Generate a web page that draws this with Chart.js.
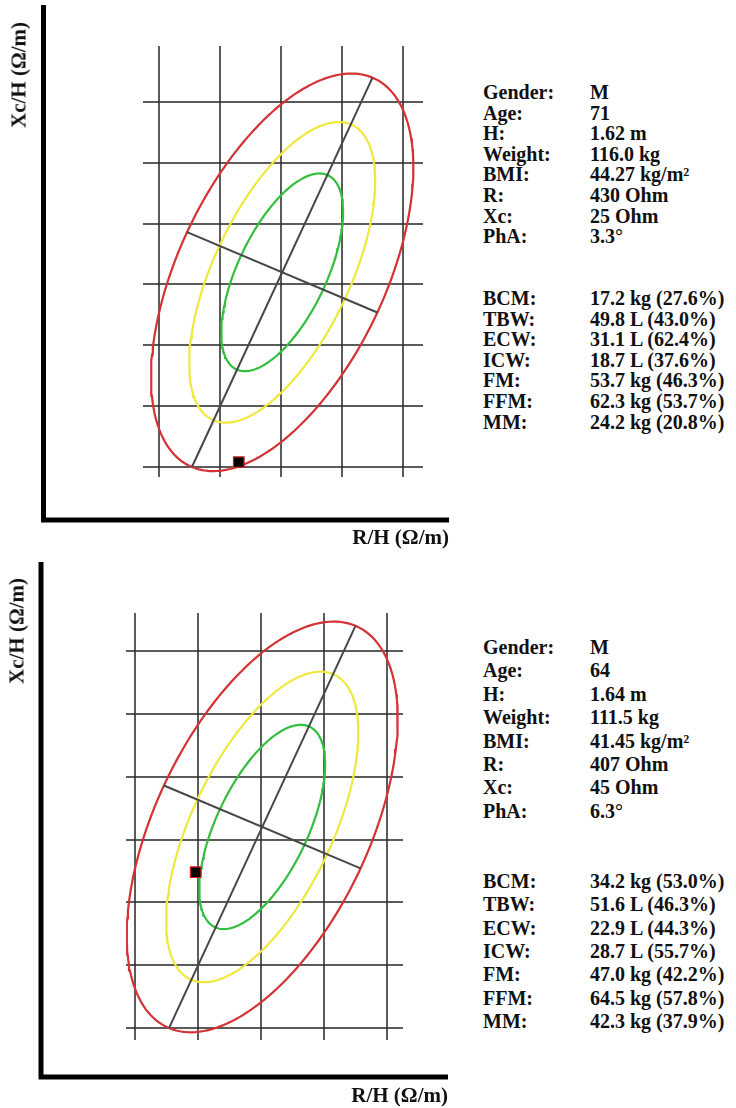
<!DOCTYPE html>
<html>
<head>
<meta charset="utf-8">
<script src="https://cdn.jsdelivr.net/npm/chart.js@4.4.1/dist/chart.umd.min.js"></script>
<style>
  body { margin: 0; background: #fff; }
  #page { position: relative; width: 736px; height: 1108px; overflow: hidden; font-family: "Liberation Serif", serif; color: #111; }
  canvas { position: absolute; left: 0; }
  .ytitle, .xtitle { position: absolute; font-weight: bold; font-size: 21px; white-space: nowrap; line-height: 1; }
  .ytitle { transform: translate(-50%, -50%) rotate(-90deg); }
  .xtitle { transform: translate(-100%, -50%); }
  .info { position: absolute; left: 483px; font-weight: bold; font-size: 20px; }
  .info .row { position: relative; white-space: nowrap; }
  .info .v { position: absolute; left: 107px; top: 0; }
</style>
</head>
<body>
<div id="page">
  <canvas id="bivaTop" width="460" height="550" style="top:0"></canvas>
  <canvas id="bivaBottom" width="460" height="553" style="top:555px"></canvas>
  <div class="ytitle" style="left:19px; top:75px">Xc/H (Ω/m)</div>
  <div class="xtitle" style="left:449px; top:537px">R/H (Ω/m)</div>
  <div class="ytitle" style="left:17px; top:631px">Xc/H (Ω/m)</div>
  <div class="xtitle" style="left:448px; top:1095px">R/H (Ω/m)</div>
  <div class="info" id="infoTop" style="top:82px"></div>
  <div class="info" id="infoBottom" style="top:636px"></div>
</div>
<script>
// grid positions (Ω/m)
const xTicks = [200, 250, 300, 350, 400];
const yTicks = [15, 20, 25, 30, 35, 40, 45];

// reference ellipse: centre and the two drawn half axes
const center = [301, 31];
const majorHalf = [74, 16];
const minorHalf = [78, -3.3];
const levels = ["50%", "75%", "95%"];
const levelMajor = [0.5, 0.76, 1];
const levelMinor = [0.43, 0.66, 1];
const levelColors = ["rgb(52, 190, 62)", "rgb(240, 232, 62)", "rgb(212, 50, 52)"];

// the two patients (R/H, Xc/H)
const pointRH = [265.4, 248.2];
const pointXcH = [15.4, 27.4];

const infoLabels = ["Gender:", "Age:", "H:", "Weight:", "BMI:", "R:", "Xc:", "PhA:",
  "BCM:", "TBW:", "ECW:", "ICW:", "FM:", "FFM:", "MM:"];
const infoTop = ["M", "71", "1.62 m", "116.0 kg", "44.27 kg/m²", "430 Ohm", "25 Ohm", "3.3°",
  "17.2 kg (27.6%)", "49.8 L (43.0%)", "31.1 L (62.4%)", "18.7 L (37.6%)", "53.7 kg (46.3%)", "62.3 kg (53.7%)", "24.2 kg (20.8%)"];
const infoBottom = ["M", "64", "1.64 m", "111.5 kg", "41.45 kg/m²", "407 Ohm", "45 Ohm", "6.3°",
  "34.2 kg (53.0%)", "51.6 L (46.3%)", "22.9 L (44.3%)", "28.7 L (55.7%)", "47.0 kg (42.2%)", "64.5 kg (57.8%)", "42.3 kg (37.9%)"];

function fillInfo(el, values, rowH) {
  infoLabels.forEach((lab, i) => {
    if (i == 8) {
      const gap = document.createElement("div");
      gap.style.height = (rowH * 2) + "px";
      el.appendChild(gap);
    }
    const row = document.createElement("div");
    row.className = "row";
    row.style.height = rowH + "px";
    row.style.lineHeight = rowH + "px";
    row.innerHTML = '<span class="k"></span><span class="v"></span>';
    row.children[0].textContent = lab;
    row.children[1].textContent = values[i];
    el.appendChild(row);
  });
}
fillInfo(document.getElementById("infoTop"), infoTop, 20.6);
fillInfo(document.getElementById("infoBottom"), infoBottom, 23.4);

function ellipse(sa, sb) {
  const pts = [];
  for (let k = 0; k <= 180; k++) {
    const t = k / 180 * 2 * Math.PI;
    pts.push({
      x: center[0] + sa * majorHalf[0] * Math.cos(t) + sb * minorHalf[0] * Math.sin(t),
      y: center[1] + sa * majorHalf[1] * Math.cos(t) + sb * minorHalf[1] * Math.sin(t)
    });
  }
  return pts;
}

// thick L-shaped axes
const frame = {
  id: "frame",
  afterDraw(chart, args, o) {
    const ctx = chart.ctx;
    ctx.save();
    ctx.strokeStyle = "#000";
    ctx.lineWidth = 5;
    ctx.lineJoin = "miter";
    ctx.beginPath();
    ctx.moveTo(o.left, o.top);
    ctx.lineTo(o.left, o.bottom);
    ctx.lineTo(o.right, o.bottom);
    ctx.stroke();
    ctx.restore();
  }
};

function makeChart(id, p, box) {
  const axisLine = (v) => [
    { x: center[0] - v[0], y: center[1] - v[1] },
    { x: center[0] + v[0], y: center[1] + v[1] }
  ];
  const datasets = [{
    label: "Patient",
    data: [{ x: pointRH[p], y: pointXcH[p] }],
    pointStyle: "rect",
    pointRadius: 7.5,
    backgroundColor: "#000",
    borderColor: "#d42020",
    borderWidth: 1.2
  }, {
    label: "Major axis",
    data: axisLine(majorHalf),
    showLine: true, pointRadius: 0, borderColor: "#474747", borderWidth: 2
  }, {
    label: "Minor axis",
    data: axisLine(minorHalf),
    showLine: true, pointRadius: 0, borderColor: "#474747", borderWidth: 2
  }];
  levels.forEach((lev, i) => {
    datasets.push({
      label: lev,
      data: ellipse(levelMajor[i], levelMinor[i]),
      showLine: true, pointRadius: 0, borderColor: levelColors[i], borderWidth: 2.2, tension: 0
    });
  });

  const grid = { color: "rgba(45, 45, 45, 0.78)", lineWidth: 2, drawTicks: false };
  return new Chart(document.getElementById(id), {
    type: "scatter",
    data: { datasets: datasets },
    options: {
      responsive: false,
      animation: false,
      events: [],
      layout: { padding: box.padding, autoPadding: false },
      plugins: {
        legend: { display: false },
        tooltip: { enabled: false },
        frame: box.frame
      },
      scales: {
        x: {
          type: "linear", min: box.x[0], max: box.x[1],
          border: { display: false }, grid: grid, ticks: { display: false },
          afterBuildTicks: s => { s.ticks = xTicks.map(v => ({ value: v })); }
        },
        y: {
          type: "linear", min: box.y[0], max: box.y[1],
          border: { display: false }, grid: grid, ticks: { display: false },
          afterBuildTicks: s => { s.ticks = yTicks.map(v => ({ value: v })); }
        }
      }
    },
    plugins: [frame]
  });
}

makeChart("bivaTop", 0, {
  padding: { left: 143, top: 46, right: 37, bottom: 73 },
  x: [186.9, 416.4], y: [14.18, 49.6],
  frame: { left: 43.5, top: 5, bottom: 520, right: 449 }
});
makeChart("bivaBottom", 1, {
  padding: { left: 126, top: 58, right: 57, bottom: 68 },
  x: [192.9, 412.7], y: [14.05, 48.02],
  frame: { left: 41, top: 7, bottom: 522, right: 448 }
});
</script>
</body>
</html>
